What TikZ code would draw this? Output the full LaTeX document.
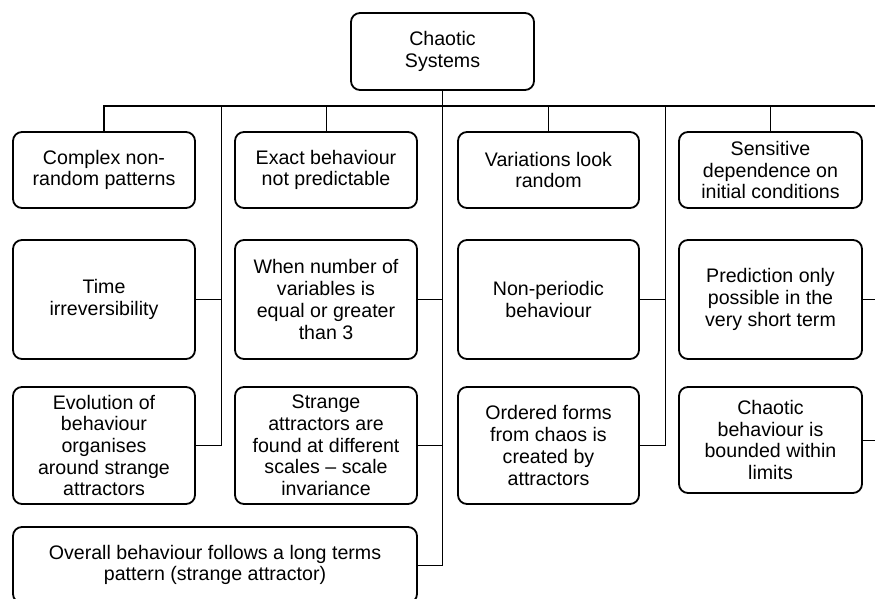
\documentclass[tikz,border=0pt]{standalone}
\usepackage{fontspec}
\setmainfont{Liberation Sans}
\begin{document}
\begin{tikzpicture}[x=1pt,y=-1pt,
  box/.style={draw, line width=1.8pt, rounded corners=9pt, rectangle,
    align=center, inner sep=2pt, font=\fontsize{19.6}{21.7}\selectfont},
  wire/.style={line width=1pt},
  bus/.style={line width=1.3pt}]
\useasboundingbox (0,0) rectangle (875,598);
\clip (0,0) rectangle (875,598);

% root
\node[box, minimum width=183pt, minimum height=77pt] (root) at (442.5,51.5) {Chaotic\\Systems};

% column 1
\node[box, minimum width=182pt, minimum height=76pt]  (a1) at (104,170)   {Complex non-\\random patterns};
\node[box, minimum width=182pt, minimum height=119pt] (a2) at (104,299.5) {Time\\irreversibility};
\node[box, minimum width=182pt, minimum height=117pt] (a3) at (104,445.5) {Evolution of\\behaviour\\organises\\around strange\\attractors};

% column 2
\node[box, minimum width=182pt, minimum height=76pt]  (b1) at (326,170)   {Exact behaviour\\not predictable};
\node[box, minimum width=182pt, minimum height=119pt] (b2) at (326,299.5) {When number of\\variables is\\equal or greater\\than 3};
\node[box, minimum width=182pt, minimum height=117pt] (b3) at (326,445.5) {Strange\\attractors are\\found at different\\scales -- scale\\invariance};
\node[box, minimum width=404pt, minimum height=76pt]  (ov) at (215,565)   {Overall behaviour follows a long terms\\pattern (strange attractor)};

% column 3
\node[box, minimum width=181pt, minimum height=76pt]  (c1) at (548.5,170)   {Variations look\\random};
\node[box, minimum width=181pt, minimum height=119pt] (c2) at (548.5,299.5) {Non-periodic\\behaviour};
\node[box, minimum width=181pt, minimum height=117pt] (c3) at (548.5,445.5) {Ordered forms\\from chaos is\\created by\\attractors};

% column 4
\node[box, minimum width=183pt, minimum height=76pt]  (d1) at (770.5,170)   {Sensitive\\dependence on\\initial conditions};
\node[box, minimum width=183pt, minimum height=119pt] (d2) at (770.5,299.5) {Prediction only\\possible in the\\very short term};
\node[box, minimum width=183pt, minimum height=106pt] (d3) at (770.5,440)   {Chaotic\\behaviour is\\bounded within\\limits};

% bus and column spines
\coordinate (busR) at (880,106);
\coordinate (sp1) at (221,106);
\coordinate (sp3) at (665,106);
\coordinate (sp4) at (878,106);

\draw[bus] (a1.north) |- (busR);
\draw[wire] (b1.north) -- (b1.north |- busR);
\draw[wire] (c1.north) -- (c1.north |- busR);
\draw[wire] (d1.north) -- (d1.north |- busR);

% spine of column 1
\draw[wire] (sp1) |- (a3.east);
\draw[wire] (a2.east) -- (a2.east -| sp1);

% spine of column 2 (from the root)
\draw[wire] (root.south) |- (ov.east);
\draw[wire] (b2.east) -- (b2.east -| root.south);
\draw[wire] (b3.east) -- (b3.east -| root.south);

% spine of column 3
\draw[wire] (sp3) |- (c3.east);
\draw[wire] (c2.east) -- (c2.east -| sp3);

% spine of column 4
\draw[wire] (sp4) |- (d3.east);
\draw[wire] (d2.east) -- (d2.east -| sp4);
\end{tikzpicture}
\end{document}
